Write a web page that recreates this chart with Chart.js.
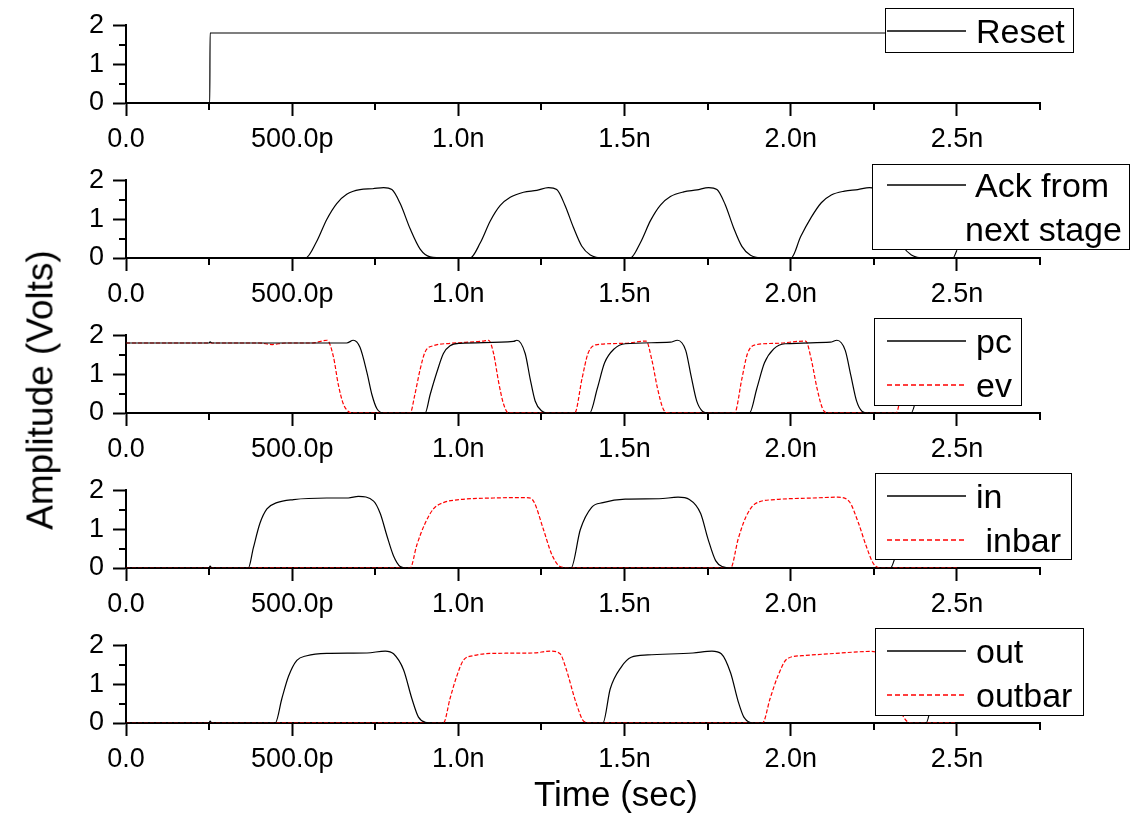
<!DOCTYPE html>
<html>
<head>
<meta charset="utf-8">
<script src="https://cdn.jsdelivr.net/npm/chart.js@4"></script>
<style>
  body { margin: 0; background: #fff; }
  #wrap { position: relative; width: 1136px; height: 814px; background: #fff; font-family: "Liberation Sans", Arial, sans-serif; }
  canvas { position: absolute; left: 0; }
  .title { position: absolute; font-size: 35px; line-height: 1; white-space: nowrap; color: #000; transform: translate(-50%, -50%); }
</style>
</head>
<body>
<div id="wrap">
  <canvas id="p0" width="1136" height="155" style="top:0px"></canvas>
  <canvas id="p1" width="1136" height="155" style="top:155px"></canvas>
  <canvas id="p2" width="1136" height="155" style="top:310px"></canvas>
  <canvas id="p3" width="1136" height="155" style="top:465px"></canvas>
  <canvas id="p4" width="1136" height="155" style="top:620px"></canvas>
  <div class="title" style="left:40px; top:390px; font-size:37px; transform: translate(-50%, -50%) rotate(-90deg);">Amplitude (Volts)</div>
  <div class="title" style="left:616px; top:793px;">Time (sec)</div>
</div>
<script>
// time in ps, amplitude in volts
const xTickValues = [0, 500, 1000, 1500, 2000, 2500];
const xTickLabels = ["0.0", "500.0p", "1.0n", "1.5n", "2.0n", "2.5n"];
const yTickValues = [0, 1, 2];
const yTickLabels = ["0", "1", "2"];

const resetT = [0, 252, 253, 2500];
const resetV = [0, 0, 1.8, 1.8];

const ackT = [0, 540, 574, 604, 634, 664, 704, 742, 775, 800, 825, 855, 885, 915, 960,
    1035, 1066, 1096, 1126, 1156, 1196, 1236, 1271, 1296, 1321, 1346, 1371, 1397, 1437,
    1517, 1548, 1578, 1608, 1638, 1678, 1718, 1753, 1778, 1803, 1828, 1853, 1879, 1919,
    2001, 2030, 2062, 2092, 2122, 2162, 2202, 2237, 2262, 2287, 2312, 2337, 2363, 2403, 2488, 2500];
const ackV = [0, 0, 0.43, 0.99, 1.4, 1.64, 1.76, 1.78, 1.81, 1.76, 1.4, 0.75, 0.23, 0.03, 0,
    0, 0.39, 0.95, 1.35, 1.56, 1.69, 1.74, 1.81, 1.76, 1.35, 0.79, 0.31, 0.08, 0,
    0, 0.4, 0.96, 1.36, 1.58, 1.7, 1.75, 1.81, 1.76, 1.37, 0.78, 0.3, 0.07, 0,
    0, 0.55, 1.05, 1.42, 1.62, 1.72, 1.76, 1.81, 1.76, 1.35, 0.79, 0.31, 0.08, 0, 0, 0.2];

const pcT = [0, 250, 253, 258, 664, 684, 704, 725, 740, 755, 775,
    900, 915, 935, 955, 975, 1005, 1166, 1176, 1201, 1216, 1231, 1251, 1266,
    1395, 1418, 1440, 1469, 1502, 1638, 1659, 1684, 1700, 1717, 1735, 1751,
    1876, 1898, 1921, 1949, 1983, 2119, 2139, 2164, 2181, 2198, 2215, 2232,
    2362, 2385, 2407, 2436, 2470, 2500];
const pcV = [1.8, 1.8, 1.83, 1.8, 1.8, 1.87, 1.69, 1.04, 0.47, 0.11, 0,
    0, 0.47, 1.04, 1.53, 1.73, 1.79, 1.84, 1.87, 1.53, 0.88, 0.31, 0.05, 0,
    0, 0.63, 1.29, 1.65, 1.78, 1.82, 1.87, 1.61, 0.96, 0.31, 0.04, 0,
    0, 0.63, 1.29, 1.65, 1.78, 1.82, 1.87, 1.61, 0.96, 0.31, 0.04, 0,
    0, 0.63, 1.29, 1.65, 1.78, 1.8];

const evT = [0, 400, 440, 480, 560, 605, 624, 639, 654, 669, 684,
    855, 869, 885, 900, 925, 975, 1076, 1091, 1106, 1121, 1136, 1151,
    1350, 1372, 1390, 1418, 1502, 1565, 1582, 1599, 1616, 1632,
    1831, 1853, 1870, 1898, 1955, 2045, 2062, 2079, 2096, 2113,
    2317, 2339, 2357, 2385, 2450, 2500];
const evV = [1.8, 1.8, 1.76, 1.8, 1.8, 1.87, 1.45, 0.72, 0.23, 0.04, 0,
    0, 0.47, 1.12, 1.57, 1.73, 1.79, 1.85, 1.87, 1.53, 0.8, 0.23, 0,
    0, 0.88, 1.53, 1.76, 1.79, 1.85, 1.37, 0.64, 0.11, 0,
    0, 0.88, 1.53, 1.76, 1.79, 1.85, 1.37, 0.64, 0.11, 0,
    0, 0.88, 1.53, 1.76, 1.79, 1.82];

const inT = [0, 250, 253, 258, 368, 383, 403, 424, 454, 504, 604, 669, 699, 745, 765, 785, 805, 825, 845,
    1339, 1367, 1401, 1435, 1502, 1604, 1661, 1695, 1729, 1751, 1774, 1796, 1819,
    2300, 2320, 2345, 2370, 2400, 2450, 2500];
const inV = [0, 0, 0.05, 0, 0, 0.51, 1.15, 1.52, 1.68, 1.76, 1.8, 1.8, 1.84, 1.72, 1.4, 0.83, 0.31, 0.04, 0,
    0, 0.99, 1.56, 1.68, 1.77, 1.78, 1.82, 1.76, 1.4, 0.75, 0.19, 0.03, 0,
    0, 0.45, 1.1, 1.5, 1.68, 1.76, 1.78];

const inbarT = [0, 855, 875, 900, 925, 955, 1005, 1106, 1176, 1206, 1226, 1256, 1281, 1306, 1337,
    1819, 1842, 1865, 1893, 1955, 2068, 2141, 2175, 2204, 2226, 2249, 2271, 2500];
const inbarV = [0, 0, 0.59, 1.15, 1.52, 1.68, 1.76, 1.8, 1.81, 1.81, 1.72, 0.99, 0.35, 0.04, 0,
    0, 0.75, 1.31, 1.65, 1.76, 1.8, 1.82, 1.72, 1.15, 0.59, 0.11, 0, 0];

const outT = [0, 250, 253, 258, 449, 469, 489, 514, 544, 604, 725, 780, 805, 835, 860, 880, 900, 925,
    1435, 1457, 1491, 1520, 1570, 1706, 1763, 1791, 1819, 1842, 1859, 1887,
    2407, 2427, 2447, 2472, 2500];
const outV = [0, 0, 0.05, 0, 0, 0.63, 1.2, 1.61, 1.73, 1.79, 1.8, 1.85, 1.78, 1.37, 0.63, 0.15, 0.02, 0,
    0, 0.88, 1.45, 1.69, 1.75, 1.8, 1.85, 1.78, 1.29, 0.55, 0.15, 0,
    0, 0.63, 1.2, 1.61, 1.73];

const outbarT = [0, 955, 975, 995, 1015, 1045, 1106, 1226, 1276, 1306, 1322, 1356, 1378, 1401,
    1915, 1938, 1961, 1989, 2034, 2136, 2240, 2265, 2295, 2320, 2340, 2362, 2500];
const outbarV = [0, 0, 0.63, 1.2, 1.61, 1.73, 1.79, 1.8, 1.85, 1.78, 1.45, 0.47, 0.04, 0,
    0, 0.63, 1.2, 1.65, 1.73, 1.79, 1.84, 1.78, 1.37, 0.63, 0.15, 0, 0];

const FONT = '"Liberation Sans", Arial, sans-serif';
const BLACK = "#000000";
const RED = "#ff0000";
Chart.defaults.font.family = FONT;
Chart.defaults.font.size = 27;
Chart.defaults.color = "#000";

function points(ts, vs) {
    return ts.map((t, i) => ({ x: t, y: vs[i] }));
}

function solid(label, ts, vs) {
    return {
        label: label, data: points(ts, vs),
        borderColor: BLACK, borderWidth: 1.2, dashed: false,
        pointRadius: 0, cubicInterpolationMode: "monotone", fill: false
    };
}

function dashed(label, ts, vs) {
    return {
        label: label, data: points(ts, vs),
        borderColor: RED, borderWidth: 1.2, borderDash: [4, 2], dashed: true,
        pointRadius: 0, cubicInterpolationMode: "monotone", fill: false
    };
}

// small ticks at the half steps, shorter than the labelled ones
const minorTicks = {
    id: "minorTicks",
    afterDraw(chart) {
        const ctx = chart.ctx;
        const xs = chart.scales.x, ys = chart.scales.y;
        ctx.save();
        ctx.strokeStyle = "#000";
        ctx.lineWidth = 2;
        ctx.beginPath();
        xs.ticks.forEach(t => {
            if (t.value % 500 !== 0) {
                const px = Math.round(xs.getPixelForValue(t.value));
                ctx.moveTo(px, xs.top);
                ctx.lineTo(px, xs.top + 7);
            }
        });
        ys.ticks.forEach(t => {
            if (t.value % 1 !== 0) {
                const py = Math.round(ys.getPixelForValue(t.value));
                ctx.moveTo(ys.right - 7, py);
                ctx.lineTo(ys.right, py);
            }
        });
        ctx.stroke();
        ctx.restore();
    }
};

// framed legend drawn over the plot, like the original
const boxLegend = {
    id: "boxLegend",
    afterDraw(chart, args, opts) {
        const ctx = chart.ctx;
        const [x1, y1, x2, y2] = opts.box;
        ctx.save();
        ctx.fillStyle = "#fff";
        ctx.fillRect(x1, y1, x2 - x1, y2 - y1);
        ctx.strokeStyle = "#000";
        ctx.lineWidth = 1;
        ctx.strokeRect(x1 + 0.5, y1 + 0.5, x2 - x1, y2 - y1);
        ctx.font = "34px " + FONT;
        ctx.textBaseline = "alphabetic";
        ctx.textAlign = "left";
        let row = 0;
        chart.data.datasets.forEach(ds => {
            const lines = ds.label.split("\n");
            lines.forEach((txt, k) => {
                const y = opts.rowY + row * 44;
                if (k === 0) {
                    ctx.save();
                    ctx.strokeStyle = ds.dashed ? RED : BLACK;
                    ctx.lineWidth = 1.4;
                    ctx.setLineDash(ds.dashed ? [5, 3] : []);
                    ctx.beginPath();
                    ctx.moveTo(887, y);
                    ctx.lineTo(966, y);
                    ctx.stroke();
                    ctx.restore();
                }
                ctx.fillStyle = "#000";
                const tx = (opts.textX && opts.textX[row] !== undefined) ? opts.textX[row] : 976;
                ctx.fillText(txt, tx, y + 12);
                row++;
            });
        });
        ctx.restore();
    }
};

function makePanel(id, datasets, legendOpts) {
    new Chart(document.getElementById(id), {
        type: "line",
        data: { datasets: datasets },
        options: {
            responsive: false,
            animation: false,
            devicePixelRatio: 1,
            layout: { padding: { top: 21, right: 96, left: 0, bottom: 0 } },
            plugins: {
                legend: { display: false },
                tooltip: { enabled: false },
                boxLegend: legendOpts
            },
            scales: {
                x: {
                    type: "linear", min: 0, max: 2750,
                    afterFit: s => { s.height = 52; },
                    border: { display: true, color: "#000", width: 2 },
                    grid: {
                        display: true, drawOnChartArea: false, drawTicks: true,
                        tickLength: 13, tickWidth: 2,
                        tickColor: c => (c.tick && c.tick.value % 500 === 0) ? "#000" : "rgba(0,0,0,0)"
                    },
                    ticks: {
                        stepSize: 250, autoSkip: false, maxRotation: 0, padding: 7,
                        callback: v => {
                            const i = xTickValues.indexOf(v);
                            return i >= 0 ? xTickLabels[i] : "";
                        }
                    }
                },
                y: {
                    min: 0, max: 2,
                    afterFit: s => { s.width = 126; },
                    border: { display: true, color: "#000", width: 2 },
                    grid: {
                        display: true, drawOnChartArea: false, drawTicks: true,
                        tickLength: 13, tickWidth: 2,
                        tickColor: c => (c.tick && c.tick.value % 1 === 0) ? "#000" : "rgba(0,0,0,0)"
                    },
                    ticks: {
                        stepSize: 0.5, autoSkip: false, padding: 9,
                        callback: v => {
                            const i = yTickValues.indexOf(v);
                            return i >= 0 ? yTickLabels[i] : "";
                        }
                    }
                }
            }
        },
        plugins: [minorTicks, boxLegend]
    });
}

makePanel("p0", [solid("Reset", resetT, resetV)],
    { box: [885, 8, 1073, 52], rowY: 31 });
makePanel("p1", [solid("Ack from\nnext stage", ackT, ackV)],
    { box: [872, 9, 1129, 94], rowY: 30, textX: [975, 965] });
makePanel("p2", [solid("pc", pcT, pcV), dashed("ev", evT, evV)],
    { box: [874, 8, 1021, 95], rowY: 31 });
makePanel("p3", [solid("in", inT, inV), dashed(" inbar", inbarT, inbarV)],
    { box: [875, 8, 1071, 94], rowY: 31 });
makePanel("p4", [solid("out", outT, outV), dashed("outbar", outbarT, outbarV)],
    { box: [875, 8, 1083, 95], rowY: 31 });
</script>
</body>
</html>
